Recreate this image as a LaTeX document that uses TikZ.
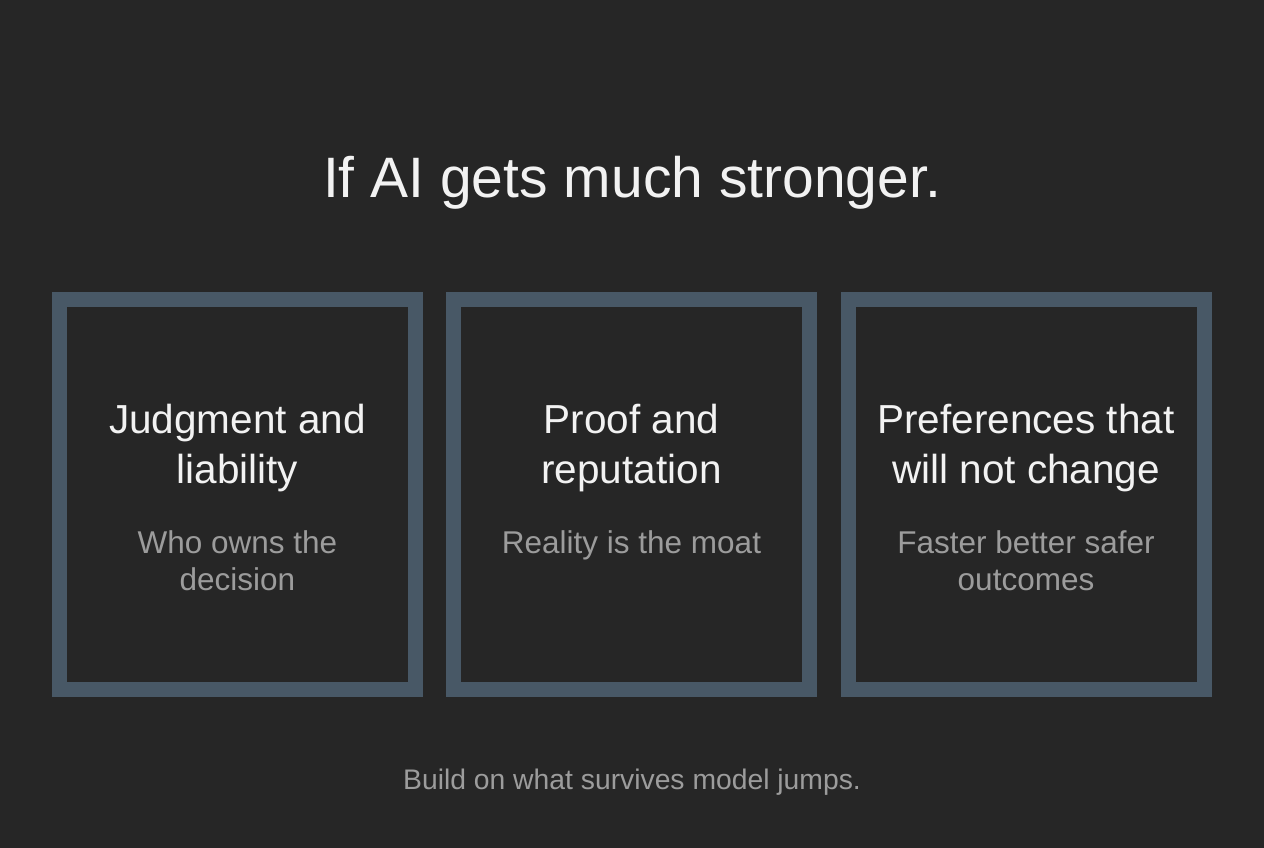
\documentclass[tikz,border=0pt]{standalone}
\usepackage{fontspec}
\setmainfont{Liberation Sans}
\usepackage{tikz}
\usetikzlibrary{positioning, calc}

\definecolor{bgdark}{HTML}{262626}
\definecolor{frameblue}{HTML}{485866}
\definecolor{softwhite}{HTML}{F2F2F2}
\definecolor{midgray}{HTML}{9C9C9C}

\begin{document}
\begin{tikzpicture}[
        x=1pt, y=1pt,
        panel/.style={draw=frameblue, line width=15pt, minimum width=356pt, minimum height=390pt, inner sep=0pt},
        head/.style={text=softwhite, align=center, font=\fontsize{40.5}{50}\selectfont},
        sub/.style={text=midgray, align=center, font=\fontsize{31.5}{37}\selectfont},
    ]
    % background
    \fill[bgdark] (0,0) rectangle (1264,848);
    \useasboundingbox (0,0) rectangle (1264,848);

    % title
    \node[text=softwhite, font=\fontsize{57}{62}\selectfont] (T) at (632,665) {If AI gets much stronger.};

    % panels
    \node[panel] (P1) at (237.5,353.5) {};
    \node[panel] (P2) at (631.5,353.5) {};
    \node[panel] (P3) at (1026,353.5) {};

    % panel texts
    \node[head] (H1) at ($(P1.center)+(0,46)$) {Judgment and\\liability};
    \node[head] (H2) at ($(P2.center)+(0,46)$) {Proof and\\reputation};
    \node[head] (H3) at ($(P3.center)+(0,46)$) {Preferences that\\will not change};

    \node[sub] (S1) at ($(P1.center)+(0,-66)$) {Who owns the\\decision};
    \node[sub] (S2) at ($(P2.center)+(0,-51)$) {Reality is the moat};
    \node[sub] (S3) at ($(P3.center)+(0,-66)$) {Faster better safer\\outcomes};

    % footer
    \node[text=midgray, font=\fontsize{28.3}{32}\selectfont] (F) at (632,66) {Build on what survives model jumps.};
\end{tikzpicture}
\end{document}
